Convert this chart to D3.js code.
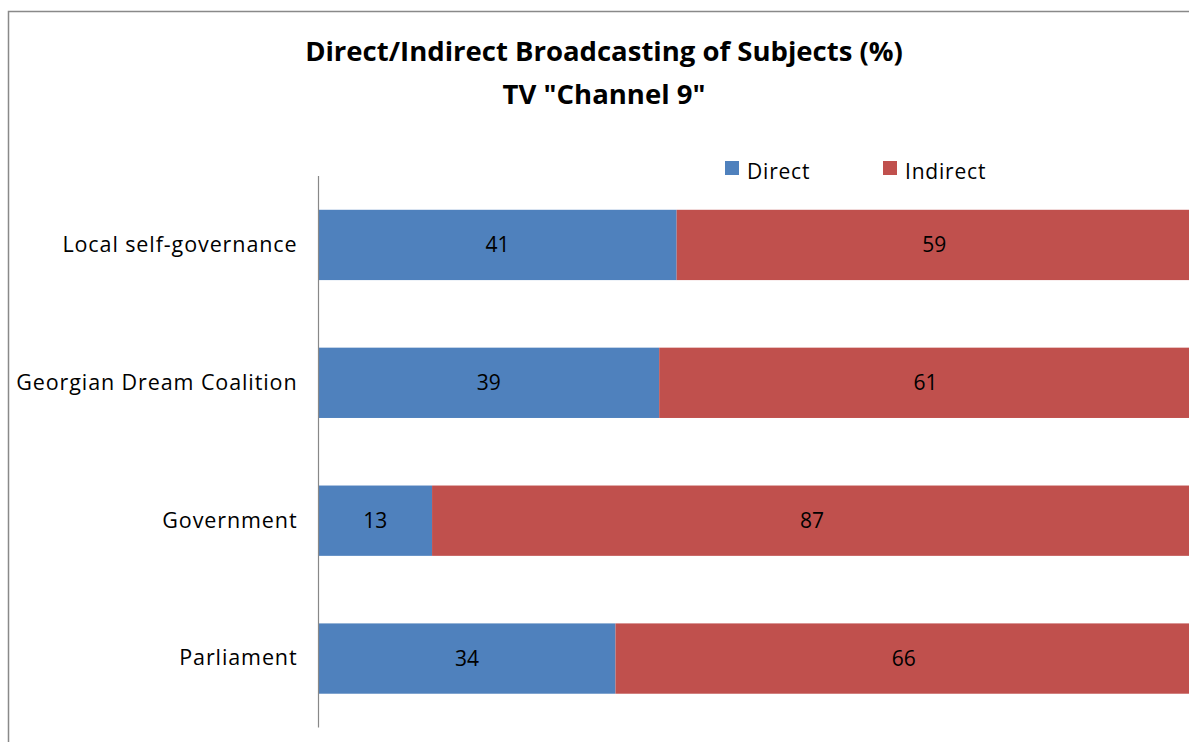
<!DOCTYPE html>
<html><head><meta charset="utf-8">
<script src="https://cdn.jsdelivr.net/npm/d3@7"></script>
<style>html,body{margin:0;padding:0;background:#fff;overflow:hidden}</style>
</head><body>
<svg id="c" width="1189" height="742"></svg>
<script>
const categories = ["Local self-governance","Georgian Dream Coalition","Government","Parliament"];
const direct = [41,39,13,34];
const indirect = [59,61,87,66];
const seriesNames = ["Direct","Indirect"];
const colors = ["#4F81BD","#C0504D"];
const titleLines = ["Direct/Indirect Broadcasting of Subjects (%)","TV \"Channel 9\""];

const svg = d3.select("#c");
const font = "'Open Sans', sans-serif";
svg.append("rect").attr("x",8.5).attr("y",11.5).attr("width",1300).attr("height",1000)
  .attr("fill","#fff").attr("stroke","#898989").attr("stroke-width",1.5);

const x = d3.scaleLinear().domain([0,100]).range([318.5,1192]);
const y = d3.scaleBand().domain(categories).range([176,727.5]).paddingInner(0.49).paddingOuter(0.245);

const stack = categories.map((c,i)=>({cat:c, vals:[direct[i],indirect[i]]}));
stack.forEach(d=>{
  let acc=0;
  d.vals.forEach((v,j)=>{
    svg.append("rect").attr("x",x(acc)).attr("width",x(acc+v)-x(acc))
      .attr("y",y(d.cat)).attr("height",y.bandwidth()).attr("fill",colors[j]);
    svg.append("text").attr("x",(x(acc)+x(acc+v))/2).attr("y",y(d.cat)+y.bandwidth()/2)
      .attr("dy","0.36em").attr("text-anchor","middle").attr("font-family",font)
      .attr("font-size",21).attr("fill","#000").text(v);
    acc+=v;
  });
});

const yAxis = d3.axisLeft(y).tickSize(0).tickPadding(21);
const ga = svg.append("g").attr("transform","translate(318.5,0)").call(yAxis);
ga.select(".domain").attr("stroke","#888").attr("stroke-width",1.2).attr("d","M0,176V727.5");
ga.selectAll("text").attr("font-family",font).attr("font-size",21.5).attr("fill","#000")
  .attr("letter-spacing","0.9px");

svg.selectAll(".title").data(titleLines).enter().append("text")
  .attr("x",604).attr("y",(d,i)=>61+i*43).attr("text-anchor","middle")
  .attr("font-family",font).attr("font-weight","bold").attr("font-size",27.5).attr("fill","#000")
  .text(d=>d);

const legX=[725,883];
seriesNames.forEach((s,i)=>{
  svg.append("rect").attr("x",legX[i]).attr("y",161).attr("width",14).attr("height",14).attr("fill",colors[i]);
  svg.append("text").attr("x",legX[i]+22).attr("y",171).attr("dy","0.36em")
    .attr("font-family",font).attr("font-size",21).attr("letter-spacing","0.8px").attr("fill","#000").text(s);
});
</script>
</body></html>
